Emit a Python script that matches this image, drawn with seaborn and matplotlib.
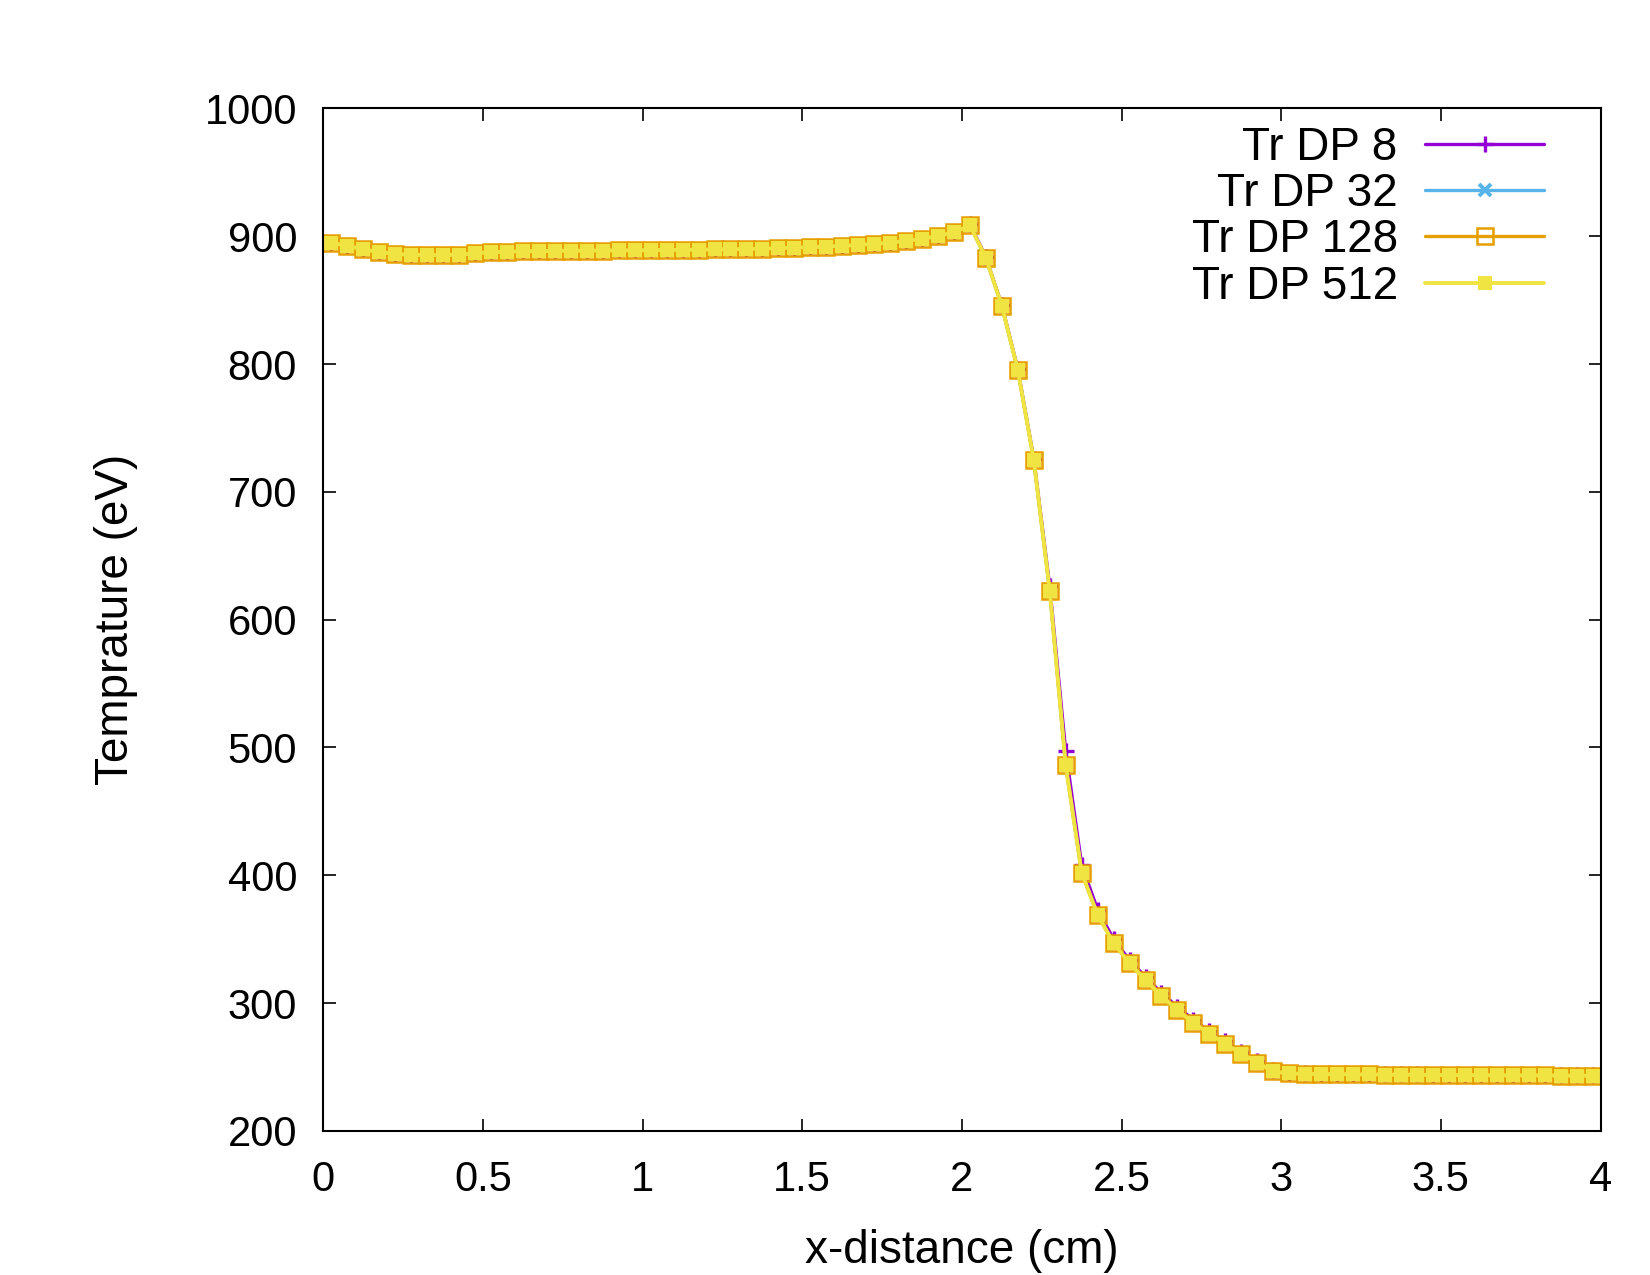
import seaborn as sns
import matplotlib.pyplot as plt

# cell centres (cm)
x_cm = [0.025, 0.075, 0.125, 0.175, 0.225, 0.275, 0.325, 0.375, 0.425, 0.475,
        0.525, 0.575, 0.625, 0.675, 0.725, 0.775, 0.825, 0.875, 0.925, 0.975,
        1.025, 1.075, 1.125, 1.175, 1.225, 1.275, 1.325, 1.375, 1.425, 1.475,
        1.525, 1.575, 1.625, 1.675, 1.725, 1.775, 1.825, 1.875, 1.925, 1.975,
        2.025, 2.075, 2.125, 2.175, 2.225, 2.275, 2.325, 2.375, 2.425, 2.475,
        2.525, 2.575, 2.625, 2.675, 2.725, 2.775, 2.825, 2.875, 2.925, 2.975,
        3.025, 3.075, 3.125, 3.175, 3.225, 3.275, 3.325, 3.375, 3.425, 3.475,
        3.525, 3.575, 3.625, 3.675, 3.725, 3.775, 3.825, 3.875, 3.925, 3.975]

tr_dp8 = [895.0, 892.4, 889.8, 887.5, 886.1, 885.4, 885.2, 885.2, 885.6, 886.6,
          887.4, 887.9, 888.2, 888.4, 888.5, 888.6, 888.7, 888.8, 888.9, 889.0,
          889.1, 889.2, 889.3, 889.4, 889.6, 889.8, 890.0, 890.3, 890.6, 891.0,
          891.4, 891.9, 892.5, 893.2, 894.0, 895.0, 896.3, 898.0, 900.2, 903.2,
          909.8, 883.5, 846.0, 796.0, 726.0, 626.0, 497.0, 408.0, 373.0, 350.0,
          333.5, 320.5, 308.0, 297.0, 287.0, 278.0, 270.0, 262.0, 255.0, 247.5,
          245.5, 245.0, 244.8, 244.7, 244.6, 244.5, 244.4, 244.3, 244.2, 244.1,
          244.0, 243.9, 243.8, 243.8, 243.7, 243.6, 243.6, 243.5, 243.5, 243.4]

tr_dp32 = [895.0, 892.4, 889.8, 887.5, 886.1, 885.4, 885.2, 885.2, 885.6, 886.6,
           887.4, 887.9, 888.2, 888.4, 888.5, 888.6, 888.7, 888.8, 888.9, 889.0,
           889.1, 889.2, 889.3, 889.4, 889.6, 889.8, 890.0, 890.3, 890.6, 891.0,
           891.4, 891.9, 892.5, 893.2, 894.0, 895.0, 896.3, 898.0, 900.2, 903.0,
           908.5, 883.0, 845.4, 795.2, 724.8, 622.5, 486.0, 402.0, 369.0, 347.0,
           331.0, 318.0, 305.5, 294.5, 284.5, 276.0, 268.0, 260.5, 253.5, 246.5,
           245.0, 244.6, 244.5, 244.4, 244.3, 244.2, 244.1, 244.0, 243.9, 243.8,
           243.7, 243.7, 243.6, 243.5, 243.5, 243.4, 243.4, 243.3, 243.3, 243.2]

tr_dp128 = list(tr_dp32)
tr_dp512 = list(tr_dp32)

labels = ["Tr DP 8", "Tr DP 32", "Tr DP 128", "Tr DP 512"]

sns.set_style("ticks")
plt.rcParams['font.family'] = ['Liberation Sans', 'DejaVu Sans']
plt.rcParams['text.color'] = 'black'
plt.rcParams['axes.labelcolor'] = 'black'
plt.rcParams['xtick.color'] = 'black'
plt.rcParams['ytick.color'] = 'black'

fig = plt.figure(figsize=(16.5, 12.75), dpi=100)
ax = fig.add_axes([0.196, 0.113, 0.774, 0.802])

sns.lineplot(x=x_cm, y=tr_dp8, ax=ax, color='#9400d3', lw=2.4, marker='+',
             markersize=12, mew=2.4, mec='#9400d3', label=labels[0], sort=False)
sns.lineplot(x=x_cm, y=tr_dp32, ax=ax, color='#56b4e9', lw=2.4, marker='x',
             markersize=9, mew=2.8, mec='#56b4e9', label=labels[1], sort=False)
sns.lineplot(x=x_cm, y=tr_dp128, ax=ax, color='#e69f00', lw=2.4, marker='s',
             markersize=11.5, mew=1.8, mfc='none', mec='#e69f00',
             label=labels[2], sort=False)
sns.lineplot(x=x_cm, y=tr_dp512, ax=ax, color='#f0e442', lw=2.8, marker='s',
             markersize=10, mew=0, mfc='#f0e442', mec='#f0e442',
             label=labels[3], sort=False)

ax.set_xlim(0, 4)
ax.set_ylim(200, 1000)
ax.set_xticks([0, 0.5, 1, 1.5, 2, 2.5, 3, 3.5, 4])
ax.set_xticklabels(["0", "0.5", "1", "1.5", "2", "2.5", "3", "3.5", "4"])
ax.set_yticks(range(200, 1001, 100))

for s in ax.spines.values():
    s.set_visible(True)
    s.set_linewidth(1.5)
    s.set_color('black')
ax.tick_params(direction='in', length=9, width=1.2, top=True, right=True,
               labelsize=30, colors='black')
ax.tick_params(axis='y', pad=19)
ax.tick_params(axis='x', pad=21)

ax.set_xlabel("x-distance (cm)", fontsize=33)
ax.set_ylabel("Temprature (eV)", fontsize=33)
ax.xaxis.set_label_coords(0.5, -0.096)
ax.yaxis.set_label_coords(-0.1455, 0.5)

ax.legend(loc='upper right', bbox_to_anchor=(0.956, 0.983), frameon=False,
          markerfirst=False, handlelength=2.6, handletextpad=0.6,
          labelspacing=0.05, borderaxespad=0, borderpad=0, fontsize=33)

plt.savefig("out.png", dpi=100)
